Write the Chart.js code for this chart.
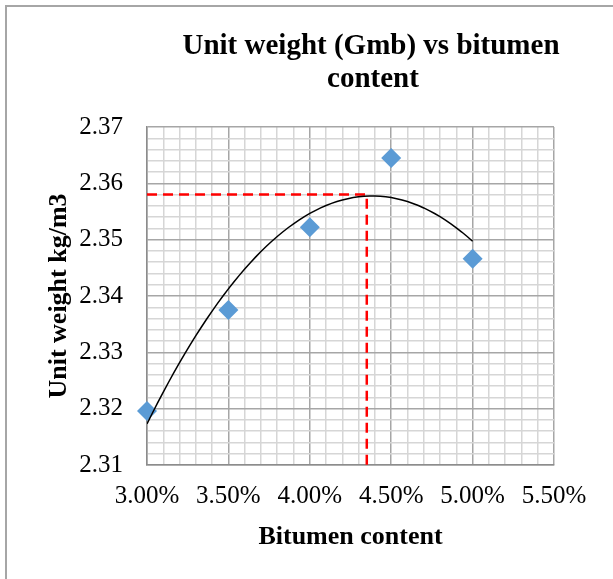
<!DOCTYPE html>
<html>
<head>
<meta charset="utf-8">
<script src="https://cdn.jsdelivr.net/npm/chart.js@4.4.1/dist/chart.umd.min.js"></script>
<style>
  html, body { margin: 0; padding: 0; background: #fff; overflow: hidden; }
  #frame { position: absolute; left: 5px; top: 5px; width: 700px; height: 700px; border: 2px solid #a6a6a6; }
  #wrap { position: absolute; left: 0; top: 0; width: 613px; height: 579px; }
</style>
</head>
<body>
<div id="frame"></div>
<div id="wrap"><canvas id="gmbChart"></canvas></div>
<script>
// measured points
const bitumen = [0.030, 0.035, 0.040, 0.045, 0.050];
const unitWeight = [2.3196, 2.3375, 2.3522, 2.3645, 2.3466];

// optimum
const optBitumen = 0.0435;
const optWeight = 2.358;

// axis labels
const xTicks = [0.030, 0.035, 0.040, 0.045, 0.050, 0.055];
const xTickLabels = ['3.00%', '3.50%', '4.00%', '4.50%', '5.00%', '5.50%'];
const yTicks = [2.31, 2.32, 2.33, 2.34, 2.35, 2.36, 2.37];
const yTickLabels = ['2.31', '2.32', '2.33', '2.34', '2.35', '2.36', '2.37'];

const FONT = '"Liberation Serif", "Times New Roman", serif';

const findMajor = (ticks, v) => ticks.findIndex(t => Math.abs(t - v) < 1e-7);

/* polynomial (order 2) trendline, least squares like Excel */
const fitQuadratic = (xs, ys) => {
  const n = xs.length;
  let s = [0, 0, 0, 0, 0], t = [0, 0, 0];
  for (let i = 0; i < n; i++) {
    for (let p = 0; p < 5; p++) s[p] += Math.pow(xs[i], p);
    for (let p = 0; p < 3; p++) t[p] += Math.pow(xs[i], p) * ys[i];
  }
  // solve 3x3 normal equations
  const m = [
    [s[0], s[1], s[2], t[0]],
    [s[1], s[2], s[3], t[1]],
    [s[2], s[3], s[4], t[2]]
  ];
  for (let i = 0; i < 3; i++) {
    for (let j = i + 1; j < 3; j++) {
      const f = m[j][i] / m[i][i];
      for (let k = i; k < 4; k++) m[j][k] -= f * m[i][k];
    }
  }
  const c = [0, 0, 0];
  for (let i = 2; i >= 0; i--) {
    let v = m[i][3];
    for (let k = i + 1; k < 3; k++) v -= m[i][k] * c[k];
    c[i] = v / m[i][i];
  }
  return x => c[0] + c[1] * x + c[2] * x * x;
};

const trend = fitQuadratic(bitumen, unitWeight);
const trendPts = [];
const x0 = bitumen[0], x1 = bitumen[bitumen.length - 1];
for (let i = 0; i <= 60; i++) {
  const x = x0 + (x1 - x0) * i / 60;
  trendPts.push({ x: x, y: trend(x) });
}

const titlePlugin = {
  id: 'chartTitle',
  afterDraw(chart) {
    const ctx = chart.ctx;
    ctx.save();
    ctx.fillStyle = '#000';
    ctx.font = 'bold 29px ' + FONT;
    ctx.textAlign = 'center';
    ctx.textBaseline = 'middle';
    ctx.fillText('Unit weight (Gmb) vs bitumen', 371, 47);
    ctx.fillText('content', 373, 80);
    ctx.restore();
  }
};

const gridColor = (ticks) => (c) => findMajor(ticks, c.tick.value) >= 0 ? '#a6a6a6' : '#d6d6d6';

new Chart(document.getElementById('gmbChart'), {
  type: 'scatter',
  data: {
    datasets: [
      {
        label: 'guide',
        data: [
          { x: x0, y: optWeight },
          { x: optBitumen, y: optWeight },
          { x: optBitumen, y: yTicks[0] }
        ],
        showLine: true,
        borderColor: '#ff0000',
        borderWidth: 2.5,
        borderDash: [10, 6],
        pointRadius: 0,
        order: 3
      },
      {
        label: 'Unit weight',
        data: bitumen.map((b, i) => ({ x: b, y: unitWeight[i] })),
        pointStyle: 'rectRot',
        pointRadius: 10,
        pointBorderWidth: 0,
        backgroundColor: '#5b9bd5',
        borderColor: '#5b9bd5',
        clip: false,
        order: 2
      },
      {
        label: 'Trend',
        data: trendPts,
        showLine: true,
        borderColor: '#000',
        borderWidth: 1.5,
        pointRadius: 0,
        order: 1
      }
    ]
  },
  options: {
    responsive: true,
    maintainAspectRatio: false,
    animation: false,
    layout: { padding: { left: 0, top: 127, right: 59, bottom: 0 } },
    plugins: {
      legend: { display: false },
      tooltip: { enabled: false }
    },
    scales: {
      x: {
        type: 'linear',
        min: xTicks[0],
        max: xTicks[xTicks.length - 1],
        afterFit: (axis) => { axis.height = 114; },
        ticks: {
          stepSize: 0.001,
          autoSkip: false,
          maxRotation: 0,
          padding: 16,
          color: '#000',
          font: { family: FONT, size: 25 },
          callback: (v) => {
            const i = findMajor(xTicks, v);
            return i >= 0 ? xTickLabels[i] : '';
          }
        },
        grid: { color: gridColor(xTicks), lineWidth: 1.5, drawTicks: false },
        border: { display: true, color: '#8c8c8c', width: 1.5 },
        title: {
          display: true,
          text: 'Bitumen content',
          color: '#000',
          font: { family: FONT, size: 26, weight: 'bold' },
          padding: { top: 0, bottom: 26 }
        }
      },
      y: {
        min: yTicks[0],
        max: yTicks[yTicks.length - 1],
        afterFit: (axis) => { axis.width = 147; },
        ticks: {
          stepSize: 0.002,
          autoSkip: false,
          padding: 24,
          color: '#000',
          font: { family: FONT, size: 25 },
          callback: (v) => {
            const i = findMajor(yTicks, v);
            return i >= 0 ? yTickLabels[i] : '';
          }
        },
        grid: { color: gridColor(yTicks), lineWidth: 1.5, drawTicks: false },
        border: { display: true, color: '#8c8c8c', width: 1.5 },
        title: {
          display: true,
          text: 'Unit weight kg/m3',
          color: '#000',
          font: { family: FONT, size: 26, weight: 'bold' },
          padding: { top: 44, bottom: 0 }
        }
      }
    }
  },
  plugins: [titlePlugin]
});
</script>
</body>
</html>
